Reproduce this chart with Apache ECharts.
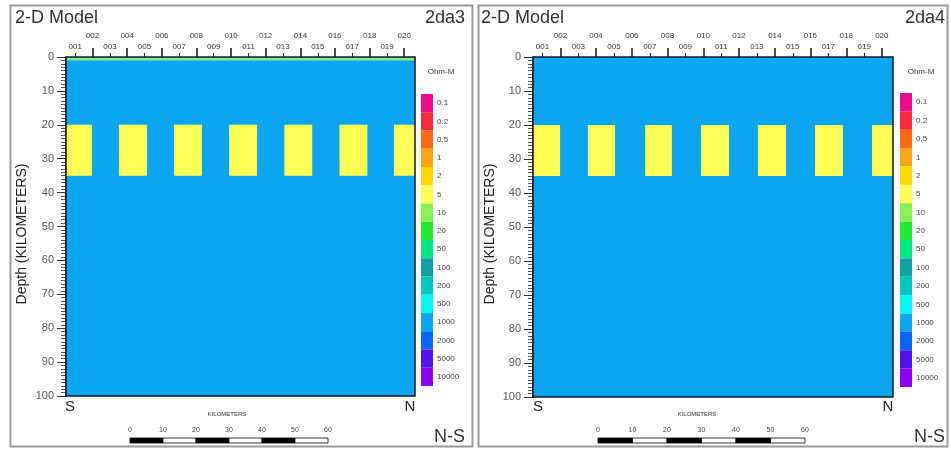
<!DOCTYPE html>
<html>
<head>
<meta charset="utf-8">
<script src="https://cdn.jsdelivr.net/npm/echarts@6/dist/echarts.min.js"></script>
<style>
  html, body { margin: 0; padding: 0; background: #fff; }
  #chart { width: 951px; height: 450px; }
</style>
</head>
<body>
<div id="chart"></div>
<script>
// ---- model data ----
const modelNames = ['2da3', '2da4'];
const profileLengthKm = 106.3;
const depthMinKm = 0;
const depthMaxKm = 100;
const depthStepKm = 10;

// station positions along the profile (km) and their labels
const stationKm = [2.8, 8.1, 13.4, 18.6, 23.9, 29.2, 34.5, 39.7, 45.0, 50.3,
                   55.6, 60.8, 66.1, 71.4, 76.7, 81.9, 87.2, 92.5, 97.8, 103.0];
const stationLabels = ['001', '002', '003', '004', '005', '006', '007', '008', '009', '010',
                       '011', '012', '013', '014', '015', '016', '017', '018', '019', '020'];

// resistivity scale (Ohm-m) and its colours
const resistivityLabels = ['0.1', '0.2', '0.5', '1', '2', '5', '10', '20', '50',
                           '100', '200', '500', '1000', '2000', '5000', '10000'];
const resistivityColors = ['#f00a8c', '#ff2b3c', '#ff6a12', '#ffa412', '#ffd800', '#ffff55',
                           '#88f052', '#22e832', '#00e882', '#12a0a2', '#00c6c2', '#00f8f8',
                           '#0ca5f0', '#0a66f8', '#5012f0', '#9000f2'];

// host rock and conductive bodies
const hostResistivity = '1000';
const bodyResistivity = '5';
const bodyTopKm = 20;
const bodyBottomKm = 35;

// model 2da3: bodies plus a thin surface layer
const bodyStartKmA = [0, 16.1, 32.9, 49.7, 66.5, 83.3, 99.9];
const bodyEndKmA = [7.9, 24.7, 41.4, 58.2, 75.0, 91.8, 106.3];
const surfaceLayerKmA = [0, 1];
const surfaceLayerColor = '#86e98a';

// model 2da4: bodies only
const bodyStartKmB = [0, 16.2, 33.1, 49.6, 66.4, 83.3, 100.1];
const bodyEndKmB = [8.0, 24.2, 41.0, 57.9, 74.7, 91.5, 106.3];

// scale bar
const scaleBarTicks = [0, 10, 20, 30, 40, 50, 60];

// ---- helpers ----
const colorOf = r => resistivityColors[resistivityLabels.indexOf(r)];
const FONT = 'Liberation Sans, Arial, sans-serif';

function modelCells(starts, ends, surface) {
  const cells = [{ value: [0, profileLengthKm, depthMinKm, depthMaxKm], fill: colorOf(hostResistivity) }];
  if (surface) cells.push({ value: [0, profileLengthKm, surface[0], surface[1]], fill: surfaceLayerColor });
  starts.forEach((s, i) => cells.push({ value: [s, ends[i], bodyTopKm, bodyBottomKm], fill: colorOf(bodyResistivity) }));
  return cells;
}

function makeRectRender(cells) {
  return function (params, api) {
    const p0 = api.coord([api.value(0), api.value(2)]);
    const p1 = api.coord([api.value(1), api.value(3)]);
    const cs = params.coordSys;
    const shape = echarts.graphic.clipRectByRect(
      { x: p0[0], y: p0[1], width: p1[0] - p0[0], height: p1[1] - p0[1] },
      { x: cs.x, y: cs.y, width: cs.width, height: cs.height });
    return shape && { type: 'rect', shape, style: { fill: cells[params.dataIndex].fill } };
  };
}

function scaleRender(params, api) {
  const p0 = api.coord([api.value(0), 0]);
  const p1 = api.coord([api.value(1), 0]);
  return {
    type: 'rect',
    shape: { x: p0[0], y: params.coordSys.y, width: p1[0] - p0[0], height: params.coordSys.height },
    style: { fill: params.dataIndex % 2 === 0 ? '#000' : '#fff', stroke: '#000', lineWidth: 0.8 }
  };
}

const oddKm = stationKm.filter((v, i) => i % 2 === 0);
const evenKm = stationKm.filter((v, i) => i % 2 === 1);
const stationName = v => {
  let best = 0;
  stationKm.forEach((s, i) => { if (Math.abs(s - v) < Math.abs(stationKm[best] - v)) best = i; });
  return stationLabels[best];
};

// ---- panel layouts (pixels) ----
const layouts = [
  { box: [10.5, 5.5, 462, 441], grid: [66, 57, 349, 339], titleX: 15, nameR: 465,
    depthX: 22, sX: 70, nX: 410, kmX: 227, scale: [130, 198], cbar: [421, 94, 12, 292], ohmX: 441,
    starts: bodyStartKmA, ends: bodyEndKmA, surface: surfaceLayerKmA },
  { box: [478.5, 5.5, 469, 441], grid: [533, 57, 360, 340], titleX: 481, nameR: 945,
    depthX: 490, sX: 538, nX: 888, kmX: 697, scale: [598, 207], cbar: [900, 93, 12, 294], ohmX: 921,
    starts: bodyStartKmB, ends: bodyEndKmB, surface: null }
];

const grid = [], xAxis = [], yAxis = [], series = [], graphic = [];

layouts.forEach((L, p) => {
  // main model section
  const g = grid.length;
  grid.push({ left: L.grid[0], top: L.grid[1], width: L.grid[2], height: L.grid[3],
              show: true, borderColor: '#141428', borderWidth: 1.5, backgroundColor: 'transparent', z: 5 });
  const xMain = xAxis.length;
  // odd stations: short ticks, lower label row
  xAxis.push({ type: 'value', gridIndex: g, position: 'top', min: 0, max: profileLengthKm,
    splitLine: { show: false }, axisLine: { show: false },
    axisTick: { show: true, customValues: oddKm, length: 4, lineStyle: { color: '#222', width: 1 } },
    axisLabel: { show: true, customValues: oddKm, margin: 6, fontSize: 8, color: '#333', fontFamily: FONT,
                 formatter: stationName } });
  // even stations: long ticks, upper label row
  xAxis.push({ type: 'value', gridIndex: g, position: 'top', min: 0, max: profileLengthKm,
    splitLine: { show: false }, axisLine: { show: false },
    axisTick: { show: true, customValues: evenKm, length: 9, lineStyle: { color: '#111', width: 1.5 } },
    axisLabel: { show: true, customValues: evenKm, margin: 17, fontSize: 8, color: '#333', fontFamily: FONT,
                 formatter: stationName } });
  const yMain = yAxis.length;
  yAxis.push({ type: 'value', gridIndex: g, inverse: true, min: depthMinKm, max: depthMaxKm, interval: depthStepKm,
    splitLine: { show: false },
    axisLine: { show: true, lineStyle: { color: '#141428', width: 1.5 } },
    axisTick: { show: true, length: 9, lineStyle: { color: '#333', width: 1 } },
    minorTick: { show: true, splitNumber: 10, length: 5, lineStyle: { color: '#555', width: 1 } },
    axisLabel: { margin: 12, fontSize: 11, color: '#555', fontFamily: FONT } });
  const cells = modelCells(L.starts, L.ends, L.surface);
  series.push({ type: 'custom', xAxisIndex: xMain, yAxisIndex: yMain, renderItem: makeRectRender(cells),
    data: cells.map(c => c.value), silent: true, z: 2 });

  // scale bar
  const gs = grid.length;
  grid.push({ left: L.scale[0], top: 438, width: L.scale[1], height: 5 });
  const xs = xAxis.length;
  xAxis.push({ type: 'value', gridIndex: gs, position: 'top', min: scaleBarTicks[0],
    max: scaleBarTicks[scaleBarTicks.length - 1], interval: 10,
    axisLine: { show: false }, axisTick: { show: false }, splitLine: { show: false },
    axisLabel: { margin: 4, fontSize: 7, color: '#444', fontFamily: FONT } });
  const ys = yAxis.length;
  yAxis.push({ type: 'value', gridIndex: gs, show: false, min: 0, max: 1 });
  series.push({ type: 'custom', xAxisIndex: xs, yAxisIndex: ys, renderItem: scaleRender, silent: true,
    data: scaleBarTicks.slice(0, -1).map((t, i) => [t, scaleBarTicks[i + 1]]) });

  // colour bar
  const gc = grid.length;
  grid.push({ left: L.cbar[0], top: L.cbar[1], width: L.cbar[2], height: L.cbar[3] });
  const xc = xAxis.length;
  xAxis.push({ type: 'value', gridIndex: gc, show: false, min: 0, max: 1 });
  const yc = yAxis.length;
  yAxis.push({ type: 'category', gridIndex: gc, data: resistivityLabels, inverse: true, position: 'right',
    axisLine: { show: false }, axisTick: { show: false }, splitLine: { show: false },
    axisLabel: { margin: 4, fontSize: 8, color: '#444', fontFamily: FONT } });
  series.push({ type: 'bar', xAxisIndex: xc, yAxisIndex: yc, barWidth: '100%', barCategoryGap: 0,
    silent: true,
    data: resistivityLabels.map((r, i) => ({ value: 1, itemStyle: { color: resistivityColors[i] } })) });

  // frame and annotations
  graphic.push(
    { type: 'rect', shape: { x: L.box[0], y: L.box[1], width: L.box[2], height: L.box[3] },
      style: { fill: 'none', stroke: '#9a9a9a', lineWidth: 2 }, z: 1 },
    { type: 'text', x: L.titleX, y: 18, style: { text: '2-D Model', font: '18px ' + FONT, fill: '#333',
      textAlign: 'left', textVerticalAlign: 'middle' } },
    { type: 'text', x: L.nameR, y: 18, style: { text: modelNames[p], font: '18px ' + FONT, fill: '#333',
      textAlign: 'right', textVerticalAlign: 'middle' } },
    { type: 'text', x: L.depthX, y: 234, rotation: Math.PI / 2, style: { text: 'Depth (KILOMETERS)',
      font: '14px ' + FONT, fill: '#222', textAlign: 'center', textVerticalAlign: 'middle' } },
    { type: 'text', x: L.sX, y: 407, style: { text: 'S', font: '15px ' + FONT, fill: '#222',
      textAlign: 'center', textVerticalAlign: 'middle' } },
    { type: 'text', x: L.nX, y: 407, style: { text: 'N', font: '15px ' + FONT, fill: '#222',
      textAlign: 'center', textVerticalAlign: 'middle' } },
    { type: 'text', x: L.kmX, y: 414, style: { text: 'KILOMETERS', font: '6px ' + FONT, fill: '#333',
      textAlign: 'center', textVerticalAlign: 'middle' } },
    { type: 'text', x: L.nameR, y: 437, style: { text: 'N-S', font: '18px ' + FONT, fill: '#333',
      textAlign: 'right', textVerticalAlign: 'middle' } },
    { type: 'text', x: L.ohmX, y: 72, style: { text: 'Ohm-M', font: '8px ' + FONT, fill: '#333',
      textAlign: 'center', textVerticalAlign: 'middle' } }
  );
});

const chart = echarts.init(document.getElementById('chart'), null, { renderer: 'canvas' });
chart.setOption({
  animation: false,
  backgroundColor: '#fff',
  grid, xAxis, yAxis, series, graphic
});
</script>
</body>
</html>
